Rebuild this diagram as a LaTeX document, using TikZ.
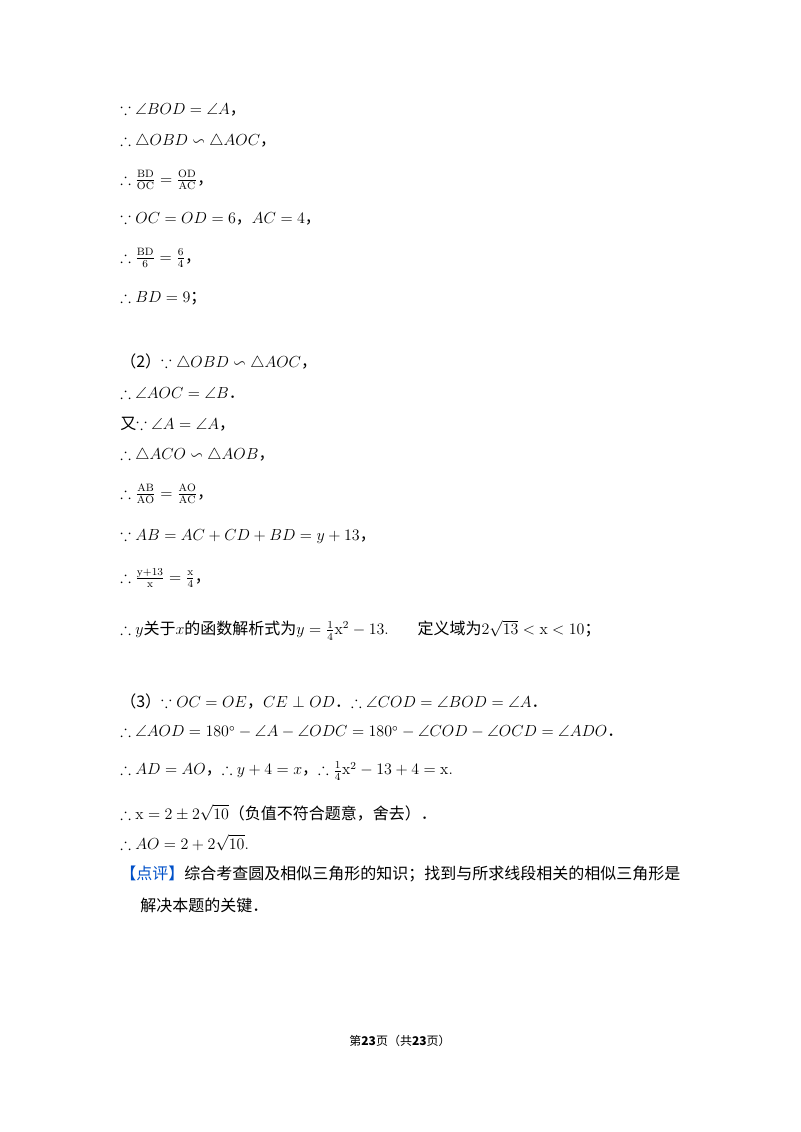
\documentclass[tikz,border=0pt]{standalone}
\usepackage{amsmath,amssymb}
\usepackage{fontspec}
\newfontfamily\cjk{Noto Sans CJK SC}
\definecolor{dpblue}{RGB}{0,80,200}
\tikzset{line/.style={anchor=west,inner sep=0pt,font=\fontsize{12pt}{14pt}\selectfont}}
\newcommand{\zh}[1]{{\cjk #1}}
\begin{document}
\begin{tikzpicture}[x=0.75pt,y=-0.75pt]
\useasboundingbox (0,0) rectangle (800,1132);

\node[line] (l1) at (120,110) {$\because\angle BOD=\angle A$\zh{，}};
\node[line] (l2) at (120,141) {$\therefore\triangle OBD\backsim\triangle AOC$\zh{，}};
\node[line] (l3) at (120,180) {$\therefore\frac{\mathrm{BD}}{\mathrm{OC}}=\frac{\mathrm{OD}}{\mathrm{AC}}$\zh{，}};
\node[line] (l4) at (120,219) {$\because OC=OD=6$\zh{，}$AC=4$\zh{，}};
\node[line] (l5) at (120,258) {$\therefore\frac{\mathrm{BD}}{6}=\frac{6}{4}$\zh{，}};
\node[line] (l6) at (120,298) {$\therefore BD=9$\zh{；}};

\node[line] (m1) at (120,362) {\zh{（2）}$\because\triangle OBD\backsim\triangle AOC$\zh{，}};
\node[line] (m2) at (120,393) {$\therefore\angle AOC=\angle B$\zh{．}};
\node[line] (m3) at (120,424) {\zh{又}$\because\angle A=\angle A$\zh{，}};
\node[line] (m4) at (120,455) {$\therefore\triangle ACO\backsim\triangle AOB$\zh{，}};
\node[line] (m5) at (120,494) {$\therefore\frac{\mathrm{AB}}{\mathrm{AO}}=\frac{\mathrm{AO}}{\mathrm{AC}}$\zh{，}};
\node[line] (m6) at (120,537) {$\because AB=AC+CD+BD=y+13$\zh{，}};
\node[line] (m7) at (120,578) {$\therefore\frac{\mathrm{y}+13}{\mathrm{x}}=\frac{\mathrm{x}}{4}$\zh{，}};
\node[line] (m8) at (120,630) {$\therefore y$\zh{关于}$x$\zh{的函数解析式为}$y=\frac{1}{4}\mathrm{x}^{2}-13$.\hspace{1.8em}\zh{定义域为}$2\sqrt{13}<\mathrm{x}<10$\zh{；}};

\node[line] (n1) at (120,701) {\zh{（3）}$\because OC=OE$\zh{，}$CE\perp OD$\zh{．}$\therefore\angle COD=\angle BOD=\angle A$\zh{．}};
\node[line] (n2) at (120,732) {$\therefore\angle AOD=180^{\circ}-\angle A-\angle ODC=180^{\circ}-\angle COD-\angle OCD=\angle ADO$\zh{．}};
\node[line] (n3) at (120,771) {$\therefore AD=AO$\zh{，}$\therefore y+4=x$\zh{，}$\therefore\frac{1}{4}\mathrm{x}^{2}-13+4=\mathrm{x}$.};
\node[line] (n4) at (120,813) {$\therefore\mathrm{x}=2\pm2\sqrt{10}$\zh{（负值不符合题意，舍去）．}};
\node[line] (n5) at (120,843) {$\therefore AO=2+2\sqrt{10}$.};

\node[line] (c1) at (120,874) {\zh{\textcolor{dpblue}{【点评】}综合考查圆及相似三角形的知识；找到与所求线段相关的相似三角形是}};
\node[line] (c2) at (140,905) {\zh{解决本题的关键．}};

\node[inner sep=0pt,font=\fontsize{9pt}{11pt}\selectfont] (page) at (400,1041) {\zh{第\textbf{23}页（共\textbf{23}页）}};
\end{tikzpicture}
\end{document}
